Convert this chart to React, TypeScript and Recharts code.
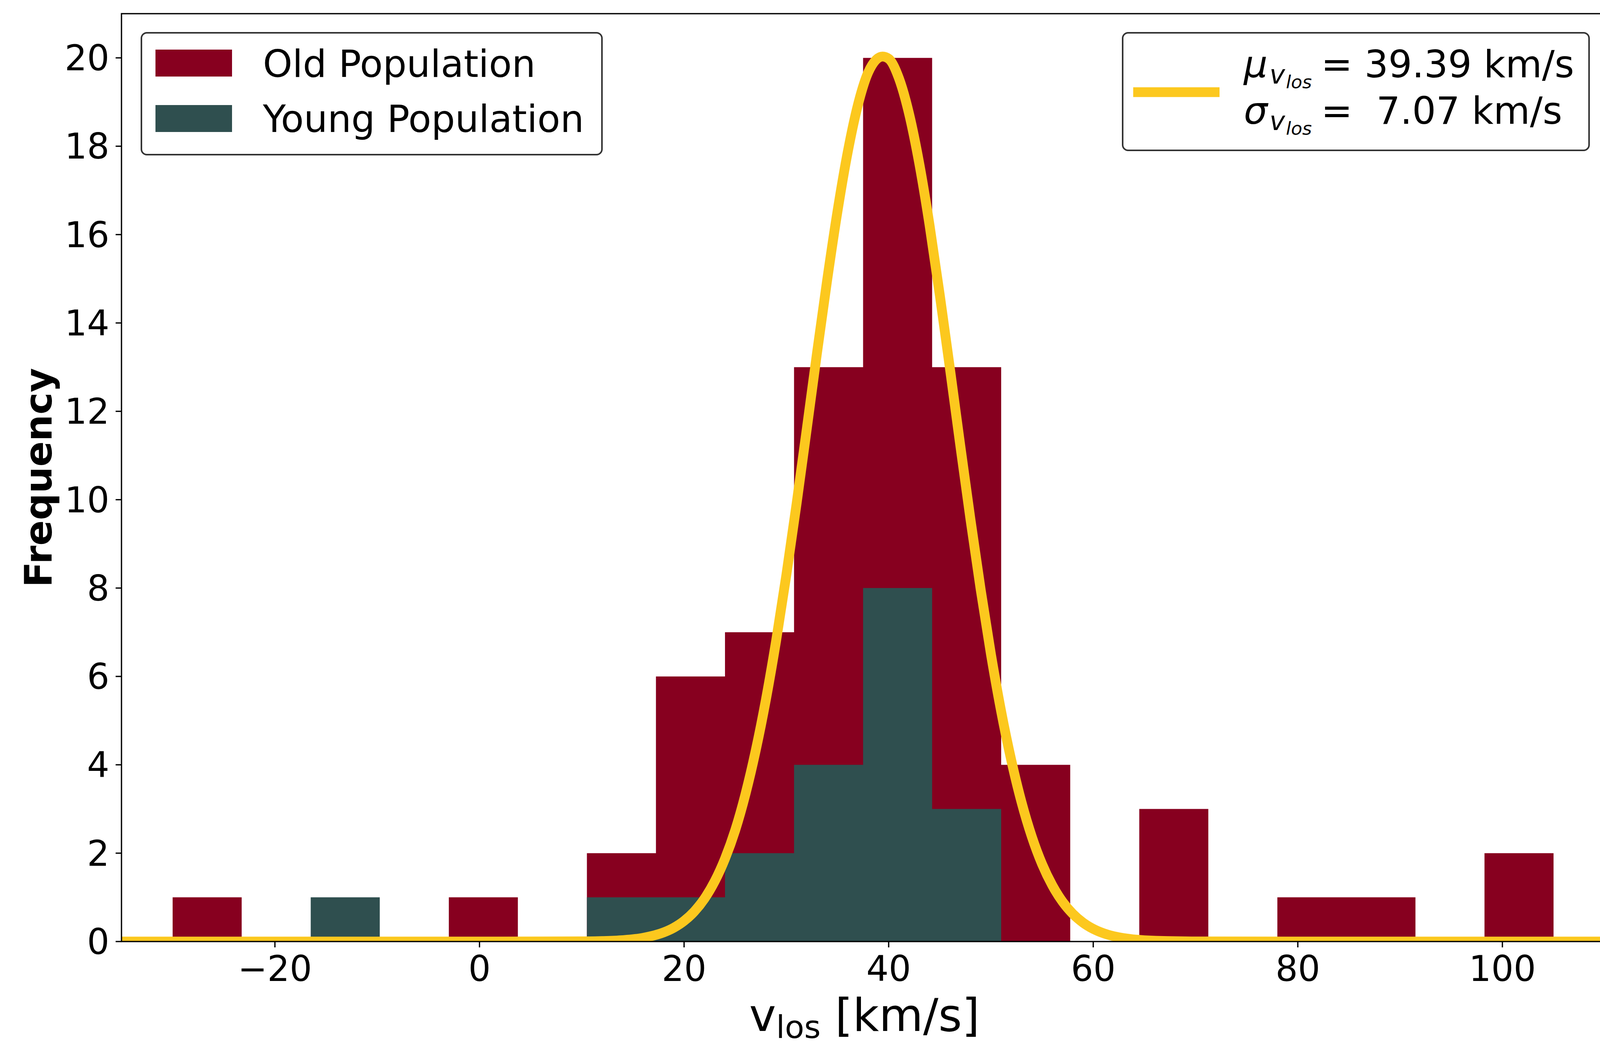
import { ComposedChart, Area, Line, XAxis, YAxis } from 'recharts'

const W = 4143
const H = 2699

const OLD_COLOR = '#87001f'
const YOUNG_COLOR = '#2f4f4f'
const FIT_COLOR = '#fcc81e'
const FONT = 'DejaVu Sans'

// histogram bin edges (21 edges -> 20 bins), km/s
const binEdges = [
  -30, -23.25, -16.5, -9.75, -3, 3.75, 10.5, 17.25, 24, 30.75, 37.5,
  44.25, 51, 57.75, 64.5, 71.25, 78, 84.75, 91.5, 98.25, 105,
]
const oldCounts = [1, 0, 0, 0, 1, 0, 2, 6, 7, 13, 20, 13, 4, 0, 3, 0, 1, 1, 0, 2]
const youngCounts = [0, 0, 1, 0, 0, 0, 1, 1, 2, 4, 8, 3, 0, 0, 0, 0, 0, 0, 0, 0]

// gaussian fit
const fitX = [
  -35, 0, 10, 12, 14, 16, 18, 19, 20, 21, 22, 23, 24, 25, 26, 27, 28, 29, 30, 31,
  32, 33, 34, 35, 36, 37, 38, 39.4, 40, 41, 42, 43, 44, 45, 46, 47, 48, 49, 50,
  51, 52, 53, 54, 55, 56, 57, 58, 59, 60, 61, 62, 63, 65, 70, 80, 110,
]
const fitY = [
  0, 0, 0.004, 0.011, 0.032, 0.084, 0.206, 0.313, 0.466, 0.68, 0.973, 1.365, 1.875,
  2.52, 3.335, 4.32, 5.476, 6.81, 8.299, 9.91, 11.61, 13.33, 14.99, 16.53, 17.87,
  18.94, 19.67, 20.03, 19.98, 19.54, 18.73, 17.6, 16.21, 14.63, 12.95, 11.23, 9.55,
  7.96, 6.5, 5.205, 4.09, 3.144, 2.37, 1.751, 1.27, 0.901, 0.627, 0.428, 0.286,
  0.187, 0.12, 0.076, 0.028, 0.002, 0, 0,
]

const xTicks = [-20, 0, 20, 40, 60, 80, 100]
const yTicks = [0, 2, 4, 6, 8, 10, 12, 14, 16, 18, 20]

// step data: each edge carries the count of the bin to its right, last edge repeats
const toSteps = (counts: number[]) =>
  binEdges.map((x, i) => ({ x, count: counts[Math.min(i, counts.length - 1)] }))

const oldData = toSteps(oldCounts)
const youngData = toSteps(youngCounts)
const fitData = fitX.map((x, i) => ({ x, y: fitY[i] }))

const fmt = (v: number) => String(v).replace('-', '\u2212')

const tickStyle = { fill: '#000', fontSize: 90, fontFamily: FONT }

// plot box
const L = 311
const T = 35
const R = 4108
const B = 2411

export default function App() {
  return (
    <div style={{ position: 'absolute', left: 0, top: 0, width: W, height: H, background: '#fff' }}>
      <ComposedChart width={W} height={H} margin={{ top: T, right: W - R, bottom: 88, left: 111 }}>
        <XAxis
          type="number"
          dataKey="x"
          domain={[-35, 110]}
          ticks={xTicks}
          allowDataOverflow
          axisLine={false}
          tickLine={{ stroke: '#000', strokeWidth: 3.3 }}
          tickSize={15}
          tickMargin={22}
          tick={tickStyle}
          tickFormatter={fmt}
          height={200}
        />
        <YAxis
          type="number"
          domain={[0, 21]}
          ticks={yTicks}
          allowDataOverflow
          axisLine={false}
          tickLine={{ stroke: '#000', strokeWidth: 3.3 }}
          tickSize={15}
          tickMargin={16}
          tick={tickStyle}
          width={200}
        />
        <Area
          data={oldData}
          dataKey="count"
          type="stepAfter"
          fill={OLD_COLOR}
          fillOpacity={1}
          stroke="none"
          isAnimationActive={false}
        />
        <Area
          data={youngData}
          dataKey="count"
          type="stepAfter"
          fill={YOUNG_COLOR}
          fillOpacity={1}
          stroke="none"
          isAnimationActive={false}
        />
        <Line
          data={fitData}
          dataKey="y"
          type="monotone"
          stroke={FIT_COLOR}
          strokeWidth={25}
          dot={false}
          isAnimationActive={false}
        />
      </ComposedChart>

      <svg
        width={W}
        height={H}
        style={{ position: 'absolute', left: 0, top: 0, pointerEvents: 'none' }}
        fontFamily={FONT}
      >
        <rect x={L} y={T} width={R - L} height={B - T} fill="none" stroke="#000" strokeWidth={3.3} />

        {/* axis labels */}
        <text x={2213} y={2640} fontSize={116} textAnchor="middle" fill="#000">
          v<tspan fontSize={81} dy={18}>los</tspan>
          <tspan dy={-18}> [km/s]</tspan>
        </text>
        <text
          transform="translate(132,1223) rotate(-90)"
          fontSize={96}
          fontWeight="bold"
          textAnchor="middle"
          fill="#000"
        >
          Frequency
        </text>

        {/* population legend */}
        <rect x={362} y={84} width={1179} height={312} rx={14} fill="#fff" stroke="#333" strokeWidth={4} />
        <rect x={398} y={127} width={196} height={69} fill={OLD_COLOR} />
        <rect x={398} y={269} width={196} height={69} fill={YOUNG_COLOR} />
        <text x={673} y={197} fontSize={96} fill="#000">Old Population</text>
        <text x={673} y={338} fontSize={96} fill="#000">Young Population</text>

        {/* fit legend */}
        <rect x={2874} y={84} width={1194} height={301} rx={14} fill="#fff" stroke="#333" strokeWidth={4} />
        <line x1={2901} y1={236} x2={3122} y2={236} stroke={FIT_COLOR} strokeWidth={25} />
        <text y={198} fontSize={96} fill="#000" style={{ whiteSpace: 'pre' }}>
          <tspan x={3184} fontStyle="italic">μ</tspan>
          <tspan x={3250} y={214} fontSize={67} fontStyle="italic">v</tspan>
          <tspan x={3292} y={226} fontSize={47} fontStyle="italic">los</tspan>
          <tspan x={3382} y={198}>= 39.39 km/s</tspan>
        </text>
        <text y={317} fontSize={96} fill="#000" style={{ whiteSpace: 'pre' }}>
          <tspan x={3184} fontStyle="italic">σ</tspan>
          <tspan x={3250} y={333} fontSize={67} fontStyle="italic">v</tspan>
          <tspan x={3292} y={345} fontSize={47} fontStyle="italic">los</tspan>
          <tspan x={3382} y={317}>=  7.07 km/s</tspan>
        </text>
      </svg>
    </div>
  )
}
